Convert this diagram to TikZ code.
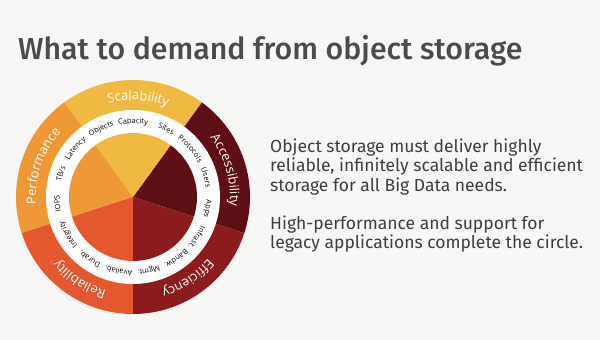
\documentclass[tikz,border=0pt]{standalone}
\usepackage{fontspec}
\setmainfont{Fira Sans}[BoldFont={Fira Sans Medium}]
\newfontfamily\wheelfont{Open Sans}
\usepackage{tikz}
\usetikzlibrary{positioning,decorations.text}
\usepackage{xcolor}
\definecolor{pagegray}{RGB}{248,247,246}
\definecolor{titlegray}{RGB}{75,75,77}
\definecolor{textgray}{RGB}{62,62,62}
\definecolor{accred}{RGB}{94,15,21}
\definecolor{scayellow}{RGB}{240,185,66}
\definecolor{perorange}{RGB}{238,152,55}
\definecolor{relred}{RGB}{228,87,47}
\definecolor{effred}{RGB}{140,27,29}

\begin{document}
\begin{tikzpicture}[x=1pt,y=1pt,
  outerlabel/.style={decorate,decoration={text along path,text align=center,
    text={|\wheelfont\fontsize{13}{15}\selectfont\color{white}|#1}}},
  innerlabel/.style={decorate,decoration={text along path,text align=center,
    text={|\wheelfont\fontsize{7.4}{9}\selectfont\color{black}|#1}}},
  bodytext/.style={anchor=north west,inner sep=0pt,align=left,text=textgray,
    font=\fontsize{17.5}{19.5}\selectfont}]
  \fill[pagegray] (0,0) rectangle (600,340);
  \useasboundingbox (0,0) rectangle (600,340);

  % Title
  \node[anchor=base west,inner sep=0pt,text=titlegray,font=\fontsize{30.3}{34}\selectfont\bfseries]
    (title) at (18,280) {What to demand from object storage};

  % Text on the right
  \node[bodytext] (para1) at (270,201.5) {Object storage must deliver highly\\
    reliable, infinitely scalable and efficient\\storage for all Big Data needs.};
  \node[bodytext,below=20pt of para1.south west,anchor=north west] (para2)
    {High-performance and support for\\legacy applications complete the circle.};

  % Wheel
  \begin{scope}[shift={(133,143)}]
  \foreach \a/\c in {-18/accred,54/scayellow,126/perorange,198/relred,270/effred}
    \fill[\c] (0,0) -- (\a:117pt) arc[start angle=\a,end angle=\a+72,radius=117pt] -- cycle;
  \fill[white] (0,0) circle (87pt);
  \foreach \a/\c in {-18/accred,54/scayellow,126/perorange,198/relred,270/effred}
    \fill[\c] (0,0) -- (\a:64pt) arc[start angle=\a,end angle=\a+72,radius=64pt] -- cycle;

  % outer ring labels
  \path[outerlabel={Scalability}] (127:97pt) arc[start angle=127,end angle=47,radius=97pt];
  \path[outerlabel={Accessibility}] (56:97pt) arc[start angle=56,end angle=-24,radius=97pt];
  \path[outerlabel={Efficiency}] (-16:97pt) arc[start angle=-16,end angle=-96,radius=97pt];
  \path[outerlabel={Reliability}] (-83:97pt) arc[start angle=-83,end angle=-163,radius=97pt];
  \path[outerlabel={Performance}] (201:97pt) arc[start angle=201,end angle=121,radius=97pt];

  % inner ring labels
  \path[innerlabel={Objects}] (135:73.5pt) arc[start angle=135,end angle=95,radius=73.5pt];
  \path[innerlabel={Capacity}] (110:73.5pt) arc[start angle=110,end angle=70,radius=73.5pt];
  \path[innerlabel={Sites}] (84:73.5pt) arc[start angle=84,end angle=44,radius=73.5pt];
  \path[innerlabel={Protocols}] (60:73.5pt) arc[start angle=60,end angle=20,radius=73.5pt];
  \path[innerlabel={Users}] (35:73.5pt) arc[start angle=35,end angle=-5,radius=73.5pt];
  \path[innerlabel={Apps}] (11:73.5pt) arc[start angle=11,end angle=-29,radius=73.5pt];
  \path[innerlabel={Infrast.}] (-12:73.5pt) arc[start angle=-12,end angle=-52,radius=73.5pt];
  \path[innerlabel={Bandw.}] (-35:73.5pt) arc[start angle=-35,end angle=-75,radius=73.5pt];
  \path[innerlabel={Mgmt.}] (-58:73.5pt) arc[start angle=-58,end angle=-98,radius=73.5pt];
  \path[innerlabel={Availab.}] (-81:73.5pt) arc[start angle=-81,end angle=-121,radius=73.5pt];
  \path[innerlabel={Durab.}] (-105:73.5pt) arc[start angle=-105,end angle=-145,radius=73.5pt];
  \path[innerlabel={Integrity}] (-130:73.5pt) arc[start angle=-130,end angle=-170,radius=73.5pt];
  \path[innerlabel={IOPS}] (205:73.5pt) arc[start angle=205,end angle=165,radius=73.5pt];
  \path[innerlabel={TB/s}] (182:73.5pt) arc[start angle=182,end angle=142,radius=73.5pt];
  \path[innerlabel={Latency}] (160:73.5pt) arc[start angle=160,end angle=120,radius=73.5pt];
  \end{scope}
\end{tikzpicture}
\end{document}
